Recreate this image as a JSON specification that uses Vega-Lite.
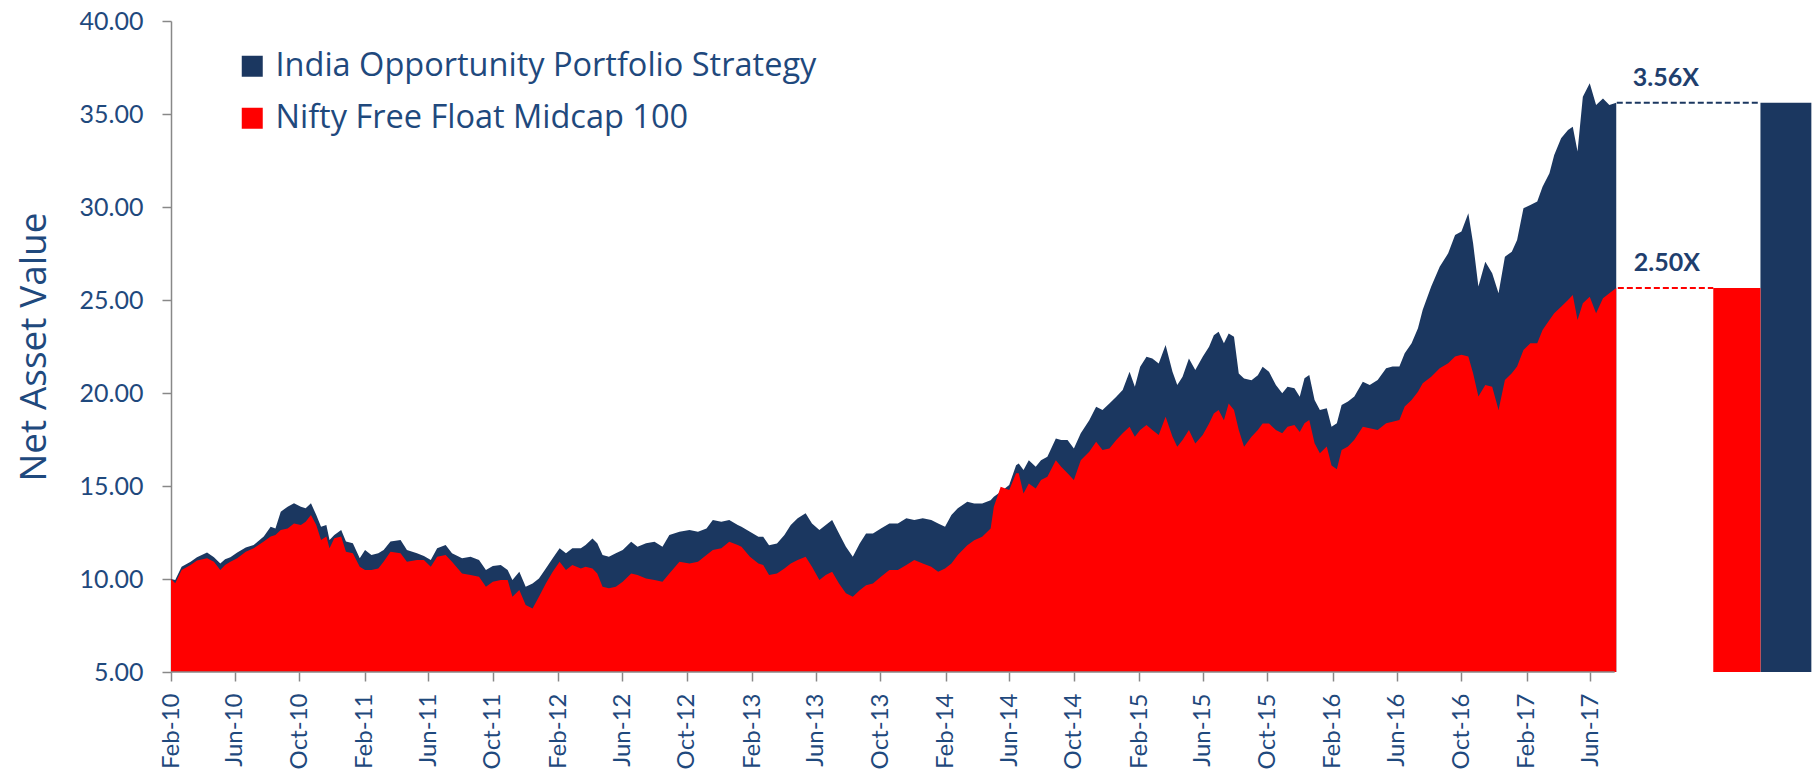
{
  "$schema": "https://vega.github.io/schema/vega-lite/v6.json",
  "width": 1643,
  "height": 651,
  "autosize": {"type": "none"},
  "padding": {"left": 171, "top": 21, "right": 0, "bottom": 100},
  "config": {"font": "Lato", "view": {"stroke": null}},
  "datasets": {
    "nav": [
      {"date": "2010-02-01", "iops": 10.00, "nifty": 10.00},
      {"date": "2010-02-09", "iops": 9.95, "nifty": 9.77},
      {"date": "2010-02-21", "iops": 10.66, "nifty": 10.48},
      {"date": "2010-03-10", "iops": 10.93, "nifty": 10.75},
      {"date": "2010-03-22", "iops": 11.17, "nifty": 10.99},
      {"date": "2010-04-10", "iops": 11.42, "nifty": 11.11},
      {"date": "2010-04-23", "iops": 11.17, "nifty": 10.93},
      {"date": "2010-05-05", "iops": 10.84, "nifty": 10.48},
      {"date": "2010-05-14", "iops": 11.06, "nifty": 10.75},
      {"date": "2010-05-24", "iops": 11.17, "nifty": 10.93},
      {"date": "2010-06-06", "iops": 11.42, "nifty": 11.11},
      {"date": "2010-06-22", "iops": 11.70, "nifty": 11.47},
      {"date": "2010-07-07", "iops": 11.83, "nifty": 11.65},
      {"date": "2010-07-26", "iops": 12.28, "nifty": 12.01},
      {"date": "2010-08-08", "iops": 12.81, "nifty": 12.28},
      {"date": "2010-08-17", "iops": 12.72, "nifty": 12.37},
      {"date": "2010-08-27", "iops": 13.62, "nifty": 12.63},
      {"date": "2010-09-09", "iops": 13.89, "nifty": 12.72},
      {"date": "2010-09-21", "iops": 14.07, "nifty": 12.99},
      {"date": "2010-10-04", "iops": 13.89, "nifty": 12.90},
      {"date": "2010-10-13", "iops": 13.80, "nifty": 13.08},
      {"date": "2010-10-23", "iops": 14.07, "nifty": 13.44},
      {"date": "2010-11-02", "iops": 13.44, "nifty": 12.90},
      {"date": "2010-11-11", "iops": 12.81, "nifty": 12.10},
      {"date": "2010-11-21", "iops": 12.90, "nifty": 12.28},
      {"date": "2010-11-27", "iops": 12.10, "nifty": 11.65},
      {"date": "2010-12-06", "iops": 12.37, "nifty": 12.19},
      {"date": "2010-12-19", "iops": 12.63, "nifty": 12.28},
      {"date": "2010-12-28", "iops": 12.01, "nifty": 11.47},
      {"date": "2011-01-10", "iops": 11.92, "nifty": 11.38},
      {"date": "2011-01-23", "iops": 11.11, "nifty": 10.66},
      {"date": "2011-02-02", "iops": 11.56, "nifty": 10.48},
      {"date": "2011-02-14", "iops": 11.29, "nifty": 10.48},
      {"date": "2011-02-27", "iops": 11.38, "nifty": 10.57},
      {"date": "2011-03-09", "iops": 11.56, "nifty": 10.93},
      {"date": "2011-03-22", "iops": 12.01, "nifty": 11.47},
      {"date": "2011-04-10", "iops": 12.10, "nifty": 11.38},
      {"date": "2011-04-22", "iops": 11.56, "nifty": 10.93},
      {"date": "2011-05-11", "iops": 11.38, "nifty": 11.02},
      {"date": "2011-05-24", "iops": 11.24, "nifty": 11.02},
      {"date": "2011-06-06", "iops": 11.02, "nifty": 10.66},
      {"date": "2011-06-18", "iops": 11.65, "nifty": 11.20},
      {"date": "2011-07-04", "iops": 11.83, "nifty": 11.29},
      {"date": "2011-07-16", "iops": 11.38, "nifty": 10.93},
      {"date": "2011-08-04", "iops": 11.11, "nifty": 10.30},
      {"date": "2011-08-20", "iops": 11.20, "nifty": 10.21},
      {"date": "2011-09-05", "iops": 11.02, "nifty": 10.12},
      {"date": "2011-09-18", "iops": 10.48, "nifty": 9.59},
      {"date": "2011-10-01", "iops": 10.70, "nifty": 9.85},
      {"date": "2011-10-16", "iops": 10.75, "nifty": 9.94},
      {"date": "2011-10-29", "iops": 10.48, "nifty": 9.94},
      {"date": "2011-11-07", "iops": 9.94, "nifty": 9.05},
      {"date": "2011-11-20", "iops": 10.39, "nifty": 9.41},
      {"date": "2011-12-02", "iops": 9.59, "nifty": 8.60},
      {"date": "2011-12-15", "iops": 9.76, "nifty": 8.42},
      {"date": "2011-12-27", "iops": 10.03, "nifty": 9.05},
      {"date": "2012-01-09", "iops": 10.57, "nifty": 9.76},
      {"date": "2012-01-22", "iops": 11.11, "nifty": 10.39},
      {"date": "2012-02-04", "iops": 11.65, "nifty": 10.93},
      {"date": "2012-02-16", "iops": 11.38, "nifty": 10.48},
      {"date": "2012-02-28", "iops": 11.65, "nifty": 10.75},
      {"date": "2012-03-15", "iops": 11.65, "nifty": 10.57},
      {"date": "2012-03-24", "iops": 11.83, "nifty": 10.66},
      {"date": "2012-04-06", "iops": 12.18, "nifty": 10.57},
      {"date": "2012-04-15", "iops": 11.92, "nifty": 10.30},
      {"date": "2012-04-25", "iops": 11.29, "nifty": 9.59},
      {"date": "2012-05-07", "iops": 11.20, "nifty": 9.50},
      {"date": "2012-05-20", "iops": 11.38, "nifty": 9.59},
      {"date": "2012-06-02", "iops": 11.56, "nifty": 9.85},
      {"date": "2012-06-18", "iops": 12.00, "nifty": 10.30},
      {"date": "2012-06-30", "iops": 11.74, "nifty": 10.21},
      {"date": "2012-07-16", "iops": 11.92, "nifty": 10.03},
      {"date": "2012-08-01", "iops": 12.00, "nifty": 9.94},
      {"date": "2012-08-16", "iops": 11.74, "nifty": 9.85},
      {"date": "2012-08-29", "iops": 12.36, "nifty": 10.30},
      {"date": "2012-09-17", "iops": 12.54, "nifty": 10.93},
      {"date": "2012-10-06", "iops": 12.63, "nifty": 10.84},
      {"date": "2012-10-22", "iops": 12.54, "nifty": 10.93},
      {"date": "2012-11-07", "iops": 12.72, "nifty": 11.29},
      {"date": "2012-11-19", "iops": 13.17, "nifty": 11.56},
      {"date": "2012-12-05", "iops": 13.08, "nifty": 11.65},
      {"date": "2012-12-20", "iops": 13.17, "nifty": 12.00},
      {"date": "2013-01-05", "iops": 12.90, "nifty": 11.83},
      {"date": "2013-01-12", "iops": 12.81, "nifty": 11.73},
      {"date": "2013-01-28", "iops": 12.54, "nifty": 11.20},
      {"date": "2013-02-13", "iops": 12.27, "nifty": 10.84},
      {"date": "2013-02-22", "iops": 12.27, "nifty": 10.75},
      {"date": "2013-03-05", "iops": 11.82, "nifty": 10.21},
      {"date": "2013-03-20", "iops": 11.91, "nifty": 10.30},
      {"date": "2013-04-03", "iops": 12.36, "nifty": 10.57},
      {"date": "2013-04-15", "iops": 12.90, "nifty": 10.84},
      {"date": "2013-04-28", "iops": 13.26, "nifty": 11.02},
      {"date": "2013-05-13", "iops": 13.53, "nifty": 11.20},
      {"date": "2013-05-25", "iops": 12.99, "nifty": 10.66},
      {"date": "2013-06-08", "iops": 12.63, "nifty": 9.94},
      {"date": "2013-06-20", "iops": 12.90, "nifty": 10.21},
      {"date": "2013-07-02", "iops": 13.17, "nifty": 10.39},
      {"date": "2013-07-15", "iops": 12.45, "nifty": 9.76},
      {"date": "2013-07-28", "iops": 11.73, "nifty": 9.23},
      {"date": "2013-08-10", "iops": 11.20, "nifty": 9.05},
      {"date": "2013-08-23", "iops": 11.91, "nifty": 9.40},
      {"date": "2013-09-04", "iops": 12.45, "nifty": 9.67},
      {"date": "2013-09-17", "iops": 12.45, "nifty": 9.76},
      {"date": "2013-10-02", "iops": 12.72, "nifty": 10.12},
      {"date": "2013-10-18", "iops": 12.99, "nifty": 10.48},
      {"date": "2013-11-03", "iops": 12.99, "nifty": 10.48},
      {"date": "2013-11-19", "iops": 13.26, "nifty": 10.75},
      {"date": "2013-12-04", "iops": 13.17, "nifty": 11.02},
      {"date": "2013-12-20", "iops": 13.26, "nifty": 10.84},
      {"date": "2014-01-05", "iops": 13.17, "nifty": 10.66},
      {"date": "2014-01-18", "iops": 12.99, "nifty": 10.39},
      {"date": "2014-01-31", "iops": 12.81, "nifty": 10.57},
      {"date": "2014-02-12", "iops": 13.44, "nifty": 10.84},
      {"date": "2014-02-24", "iops": 13.80, "nifty": 11.29},
      {"date": "2014-03-14", "iops": 14.15, "nifty": 11.82},
      {"date": "2014-03-27", "iops": 14.06, "nifty": 12.09},
      {"date": "2014-04-11", "iops": 14.06, "nifty": 12.27},
      {"date": "2014-04-27", "iops": 14.24, "nifty": 12.72},
      {"date": "2014-05-03", "iops": 14.42, "nifty": 13.88},
      {"date": "2014-05-16", "iops": 14.69, "nifty": 14.96},
      {"date": "2014-06-01", "iops": 15.05, "nifty": 14.78},
      {"date": "2014-06-14", "iops": 16.12, "nifty": 15.68},
      {"date": "2014-06-19", "iops": 16.21, "nifty": 15.68},
      {"date": "2014-06-28", "iops": 15.86, "nifty": 14.60},
      {"date": "2014-07-08", "iops": 16.39, "nifty": 15.14},
      {"date": "2014-07-21", "iops": 16.04, "nifty": 14.87},
      {"date": "2014-07-31", "iops": 16.39, "nifty": 15.32},
      {"date": "2014-08-12", "iops": 16.57, "nifty": 15.50},
      {"date": "2014-08-28", "iops": 17.56, "nifty": 16.39},
      {"date": "2014-09-07", "iops": 17.47, "nifty": 16.04},
      {"date": "2014-09-19", "iops": 17.47, "nifty": 15.68},
      {"date": "2014-10-01", "iops": 17.02, "nifty": 15.32},
      {"date": "2014-10-14", "iops": 17.83, "nifty": 16.39},
      {"date": "2014-10-30", "iops": 18.54, "nifty": 16.84},
      {"date": "2014-11-12", "iops": 19.26, "nifty": 17.38},
      {"date": "2014-11-24", "iops": 19.08, "nifty": 16.93},
      {"date": "2014-12-07", "iops": 19.44, "nifty": 17.02},
      {"date": "2014-12-20", "iops": 19.80, "nifty": 17.47},
      {"date": "2015-01-01", "iops": 20.16, "nifty": 17.83},
      {"date": "2015-01-14", "iops": 21.14, "nifty": 18.19},
      {"date": "2015-01-24", "iops": 20.34, "nifty": 17.65},
      {"date": "2015-02-03", "iops": 21.41, "nifty": 18.01},
      {"date": "2015-02-15", "iops": 21.95, "nifty": 18.28},
      {"date": "2015-02-26", "iops": 21.86, "nifty": 18.01},
      {"date": "2015-03-10", "iops": 21.59, "nifty": 17.74},
      {"date": "2015-03-23", "iops": 22.58, "nifty": 18.72},
      {"date": "2015-04-05", "iops": 21.14, "nifty": 17.65},
      {"date": "2015-04-14", "iops": 20.43, "nifty": 17.11},
      {"date": "2015-04-24", "iops": 20.87, "nifty": 17.47},
      {"date": "2015-05-06", "iops": 21.86, "nifty": 18.01},
      {"date": "2015-05-18", "iops": 21.23, "nifty": 17.29},
      {"date": "2015-06-01", "iops": 21.95, "nifty": 17.74},
      {"date": "2015-06-13", "iops": 22.49, "nifty": 18.36},
      {"date": "2015-06-22", "iops": 23.11, "nifty": 18.90},
      {"date": "2015-07-01", "iops": 23.29, "nifty": 19.08},
      {"date": "2015-07-11", "iops": 22.67, "nifty": 18.54},
      {"date": "2015-07-20", "iops": 23.20, "nifty": 19.44},
      {"date": "2015-07-30", "iops": 23.02, "nifty": 19.08},
      {"date": "2015-08-08", "iops": 21.05, "nifty": 18.01},
      {"date": "2015-08-18", "iops": 20.78, "nifty": 17.11},
      {"date": "2015-09-01", "iops": 20.69, "nifty": 17.65},
      {"date": "2015-09-13", "iops": 20.96, "nifty": 18.01},
      {"date": "2015-09-22", "iops": 21.41, "nifty": 18.36},
      {"date": "2015-10-04", "iops": 21.14, "nifty": 18.36},
      {"date": "2015-10-17", "iops": 20.43, "nifty": 18.01},
      {"date": "2015-10-29", "iops": 19.98, "nifty": 17.83},
      {"date": "2015-11-08", "iops": 20.34, "nifty": 18.19},
      {"date": "2015-11-21", "iops": 20.25, "nifty": 18.28},
      {"date": "2015-12-01", "iops": 19.80, "nifty": 17.90},
      {"date": "2015-12-10", "iops": 20.79, "nifty": 18.37},
      {"date": "2015-12-19", "iops": 20.97, "nifty": 18.55},
      {"date": "2015-12-29", "iops": 19.63, "nifty": 17.30},
      {"date": "2016-01-08", "iops": 19.09, "nifty": 16.76},
      {"date": "2016-01-21", "iops": 19.18, "nifty": 17.12},
      {"date": "2016-01-30", "iops": 18.19, "nifty": 16.10},
      {"date": "2016-02-09", "iops": 18.37, "nifty": 15.90},
      {"date": "2016-02-18", "iops": 19.36, "nifty": 16.94},
      {"date": "2016-03-01", "iops": 19.54, "nifty": 17.12},
      {"date": "2016-03-13", "iops": 19.81, "nifty": 17.48},
      {"date": "2016-03-29", "iops": 20.61, "nifty": 18.19},
      {"date": "2016-04-11", "iops": 20.43, "nifty": 18.10},
      {"date": "2016-04-26", "iops": 20.70, "nifty": 18.01},
      {"date": "2016-05-12", "iops": 21.33, "nifty": 18.37},
      {"date": "2016-05-24", "iops": 21.42, "nifty": 18.46},
      {"date": "2016-06-06", "iops": 21.42, "nifty": 18.55},
      {"date": "2016-06-16", "iops": 22.14, "nifty": 19.27},
      {"date": "2016-06-29", "iops": 22.67, "nifty": 19.63},
      {"date": "2016-07-11", "iops": 23.48, "nifty": 20.07},
      {"date": "2016-07-20", "iops": 24.47, "nifty": 20.52},
      {"date": "2016-08-05", "iops": 25.72, "nifty": 20.88},
      {"date": "2016-08-21", "iops": 26.79, "nifty": 21.33},
      {"date": "2016-09-06", "iops": 27.51, "nifty": 21.60},
      {"date": "2016-09-19", "iops": 28.50, "nifty": 21.96},
      {"date": "2016-10-01", "iops": 28.68, "nifty": 22.05},
      {"date": "2016-10-14", "iops": 29.66, "nifty": 21.96},
      {"date": "2016-10-23", "iops": 28.05, "nifty": 21.06},
      {"date": "2016-11-02", "iops": 25.72, "nifty": 19.81},
      {"date": "2016-11-15", "iops": 27.06, "nifty": 20.43},
      {"date": "2016-11-28", "iops": 26.44, "nifty": 20.34},
      {"date": "2016-12-10", "iops": 25.36, "nifty": 19.09},
      {"date": "2016-12-22", "iops": 27.33, "nifty": 20.70},
      {"date": "2017-01-04", "iops": 27.60, "nifty": 21.06},
      {"date": "2017-01-14", "iops": 28.23, "nifty": 21.42},
      {"date": "2017-01-26", "iops": 29.93, "nifty": 22.31},
      {"date": "2017-02-08", "iops": 30.11, "nifty": 22.67},
      {"date": "2017-02-21", "iops": 30.29, "nifty": 22.67},
      {"date": "2017-03-03", "iops": 31.09, "nifty": 23.39},
      {"date": "2017-03-16", "iops": 31.81, "nifty": 23.93},
      {"date": "2017-03-25", "iops": 32.80, "nifty": 24.29},
      {"date": "2017-04-07", "iops": 33.69, "nifty": 24.64},
      {"date": "2017-04-20", "iops": 34.14, "nifty": 25.00},
      {"date": "2017-04-29", "iops": 34.32, "nifty": 25.27},
      {"date": "2017-05-08", "iops": 32.98, "nifty": 23.93},
      {"date": "2017-05-18", "iops": 35.93, "nifty": 24.82},
      {"date": "2017-05-31", "iops": 36.65, "nifty": 25.18},
      {"date": "2017-06-12", "iops": 35.49, "nifty": 24.29},
      {"date": "2017-06-25", "iops": 35.84, "nifty": 25.09},
      {"date": "2017-07-07", "iops": 35.49, "nifty": 25.36},
      {"date": "2017-07-20", "iops": 35.60, "nifty": 25.65}
    ],
    "summary": [
      {"series": "India Opportunity Portfolio Strategy", "value": 35.6, "lineStart": "2017-07-21", "barStart": "2018-04-18", "barEnd": "2018-07-23", "label": "3.56X"},
      {"series": "Nifty Free Float Midcap 100", "value": 25.65, "lineStart": "2017-07-23", "barStart": "2018-01-19", "barEnd": "2018-04-18", "label": "2.50X"}
    ],
    "axisline": [
      {"start": "2010-02-01", "end": "2017-07-17"}
    ]
  },
  "layer": [
    {
      "data": {"name": "nav"},
      "mark": {"type": "area", "interpolate": "linear"},
      "encoding": {
        "x": {
          "field": "date", "type": "temporal",
          "scale": {"domain": [{"year": 2010, "month": 2, "date": 1}, {"year": 2018, "month": 7, "date": 28}]},
          "axis": {
            "domain": false,
            "grid": false,
            "title": null,
            "values": [
              {"year": 2010, "month": 2, "date": 1}, {"year": 2010, "month": 6, "date": 1}, {"year": 2010, "month": 10, "date": 1},
              {"year": 2011, "month": 2, "date": 1}, {"year": 2011, "month": 6, "date": 1}, {"year": 2011, "month": 10, "date": 1},
              {"year": 2012, "month": 2, "date": 1}, {"year": 2012, "month": 6, "date": 1}, {"year": 2012, "month": 10, "date": 1},
              {"year": 2013, "month": 2, "date": 1}, {"year": 2013, "month": 6, "date": 1}, {"year": 2013, "month": 10, "date": 1},
              {"year": 2014, "month": 2, "date": 1}, {"year": 2014, "month": 6, "date": 1}, {"year": 2014, "month": 10, "date": 1},
              {"year": 2015, "month": 2, "date": 1}, {"year": 2015, "month": 6, "date": 1}, {"year": 2015, "month": 10, "date": 1},
              {"year": 2016, "month": 2, "date": 1}, {"year": 2016, "month": 6, "date": 1}, {"year": 2016, "month": 10, "date": 1},
              {"year": 2017, "month": 2, "date": 1}, {"year": 2017, "month": 6, "date": 1}
            ],
            "format": "%b-%y",
            "labelAngle": 270,
            "labelFont": "Lato",
            "labelFontSize": 24,
            "labelColor": "#1F497D",
            "labelPadding": 12,
            "labelFlush": false,
            "labelOverlap": false,
            "labelBound": false,
            "tickColor": "#888888",
            "tickSize": 9,
            "tickWidth": 1.5
          }
        },
        "y": {
          "field": "iops", "type": "quantitative",
          "scale": {"domain": [5, 40], "zero": false, "nice": false},
          "axis": {
            "values": [5, 10, 15, 20, 25, 30, 35, 40],
            "format": ".2f",
            "grid": false,
            "domainColor": "#888888",
            "domainWidth": 1.5,
            "tickColor": "#888888",
            "tickSize": 9,
            "tickWidth": 1.5,
            "labelFont": "Lato",
            "labelFontSize": 25,
            "labelColor": "#1F497D",
            "labelPadding": 19,
            "title": "Net Asset Value",
            "titleFont": "Open Sans",
            "titleFontSize": 37,
            "titleFontWeight": "normal",
            "titleColor": "#1F497D",
            "titlePadding": 26
          }
        },
        "y2": {"datum": 5},
        "color": {
          "datum": "India Opportunity Portfolio Strategy",
          "type": "nominal",
          "scale": {
            "domain": ["India Opportunity Portfolio Strategy", "Nifty Free Float Midcap 100"],
            "range": ["#1B3760", "#FF0000"]
          },
          "legend": {
            "orient": "none",
            "legendX": 65,
            "legendY": 29,
            "title": null,
            "symbolType": "square",
            "symbolSize": 441,
            "symbolOpacity": 1,
            "symbolStrokeWidth": 0,
            "labelFont": "Open Sans",
            "labelFontSize": 32.5,
            "labelColor": "#1F497D",
            "labelOffset": 7,
            "labelLimit": 900,
            "rowPadding": 19
          }
        }
      }
    },
    {
      "data": {"name": "nav"},
      "mark": {"type": "area", "interpolate": "linear"},
      "encoding": {
        "x": {"field": "date", "type": "temporal"},
        "y": {"field": "nifty", "type": "quantitative"},
        "y2": {"datum": 5},
        "color": {"datum": "Nifty Free Float Midcap 100", "type": "nominal", "legend": null}
      }
    },
    {
      "data": {"name": "summary"},
      "mark": {"type": "rect"},
      "encoding": {
        "x": {"field": "barStart", "type": "temporal"},
        "x2": {"field": "barEnd"},
        "y": {"field": "value", "type": "quantitative"},
        "y2": {"datum": 5},
        "color": {"field": "series", "type": "nominal", "legend": null}
      }
    },
    {
      "data": {"name": "summary"},
      "mark": {"type": "rule", "strokeDash": [6, 3], "strokeWidth": 2},
      "encoding": {
        "x": {"field": "lineStart", "type": "temporal"},
        "x2": {"field": "barStart"},
        "y": {"field": "value", "type": "quantitative"},
        "color": {"field": "series", "type": "nominal", "legend": null}
      }
    },
    {
      "data": {"name": "summary"},
      "mark": {"type": "text", "align": "left", "baseline": "alphabetic", "dx": 16, "dy": -17, "font": "Lato", "fontSize": 25, "fontWeight": "bold", "color": "#1F3F6E"},
      "encoding": {
        "x": {"field": "lineStart", "type": "temporal"},
        "y": {"field": "value", "type": "quantitative"},
        "text": {"field": "label"}
      }
    },
    {
      "data": {"name": "axisline"},
      "mark": {"type": "rule", "color": "#888888", "strokeWidth": 1.5},
      "encoding": {
        "x": {"field": "start", "type": "temporal"},
        "x2": {"field": "end"},
        "y": {"datum": 5}
      }
    }
  ]
}
